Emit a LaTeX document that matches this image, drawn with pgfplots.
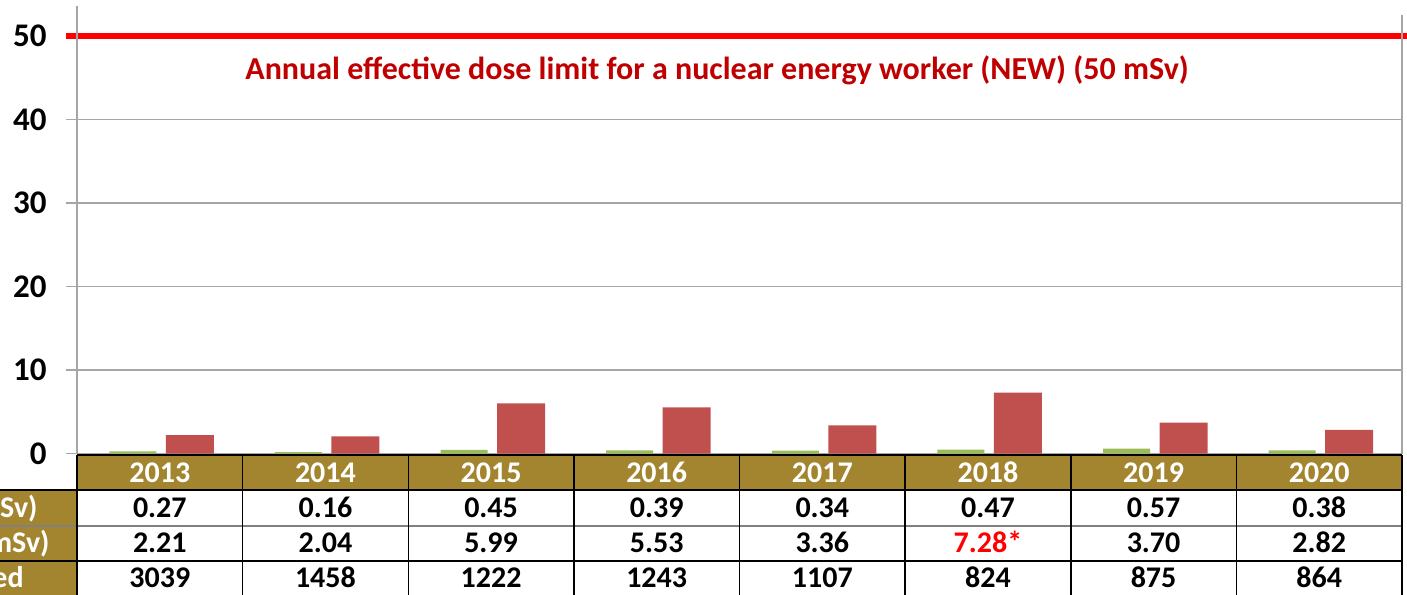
\documentclass[border=0pt]{standalone}
\usepackage{pgfplots}
\pgfplotsset{compat=1.18}
\usepackage{fontspec}
\setmainfont{Carlito}
\definecolor{gold}{RGB}{163,133,48}
\definecolor{bargreen}{RGB}{155,187,89}
\definecolor{barred}{RGB}{192,80,77}
\definecolor{limred}{RGB}{255,0,0}
\definecolor{txtred}{RGB}{192,0,0}
\definecolor{gridgray}{RGB}{166,166,166}
\definecolor{rowgray}{RGB}{128,128,128}

\begin{document}
\begin{tikzpicture}
\useasboundingbox (0,0) rectangle (703.5pt,-297pt);
\clip (0,0) rectangle (703.5pt,-297pt);
\begin{axis}[
  scale only axis, width=662.5pt, height=229.6pt,
  at={(38.5pt,-226.75pt)}, anchor=south west,
  xmin=-0.5, xmax=7.5, ymin=0, ymax=55,
  xtick=\empty, ytick={0,10,20,30,40,50},
  ymajorgrids, major grid style={gridgray, line width=0.75pt},
  axis line style={draw=none},
  tick align=outside, major tick length=5.5pt,
  tick style={gridgray, line width=0.75pt},
  ytick pos=left,
  yticklabel style={font=\bfseries\fontsize{16.5}{16.5}\selectfont, anchor=east, inner sep=0pt, xshift=-9.5pt},
  /pgf/number format/assume math mode=true,
  clip=false,
]
\addplot[ybar, bar width=23.5pt, bar shift=-13.5pt, fill=bargreen, draw=none]
  coordinates {(0,0.27) (1,0.16) (2,0.45) (3,0.39) (4,0.34) (5,0.47) (6,0.57) (7,0.38)};
\addplot[ybar, bar width=24pt, bar shift=15pt, fill=barred, draw=none]
  coordinates {(0,2.21) (1,2.04) (2,5.99) (3,5.53) (4,3.36) (5,7.28) (6,3.70) (7,2.82)};
\addplot[limred, line width=3pt, no markers] coordinates {(-0.566,50) (7.6,50)};
\draw[gridgray, line width=1pt] (axis cs:-0.5,0) -- (axis cs:-0.5,53.6);
\draw[gridgray, line width=1pt] (axis cs:7.5,0) -- (axis cs:7.5,52.5);
\node[text=txtred, font=\bfseries\fontsize{16}{16}\selectfont] at (axis cs:3.365,45.9)
  {Annual effective dose limit for a nuclear energy worker (NEW) (50 mSv)};
\end{axis}
\begin{scope}[x=0.5pt,y=-0.5pt]
\fill[gold] (77,455) rectangle (1402,490);
\fill[gold] (0,490) rectangle (77,600);
\draw[black, line width=0.75pt] (77,455) -- (1402,455);
\draw[black, line width=0.75pt] (0,490) -- (1402,490);
\draw[rowgray, line width=0.75pt] (0,526) -- (1402,526);
\draw[black, line width=0.75pt] (0,561) -- (1402,561);
\foreach \k in {0,...,8} {
  \draw[black, line width=0.75pt] ({77+165.625*\k},455) -- ({77+165.625*\k},600);
}
\tikzset{tc/.style={anchor=base, inner sep=0pt, font=\bfseries\fontsize{15}{15}\selectfont}}
\foreach \y [count=\i from 0] in {2013,2014,2015,2016,2017,2018,2019,2020} {
  \node[tc, text=white] at ({77+165.625*(\i+0.5)},482) {\y};
}
\foreach \v [count=\i from 0] in {0.27,0.16,0.45,0.39,0.34,0.47,0.57,0.38} {
  \node[tc] at ({77+165.625*(\i+0.5)},517) {\v};
}
\foreach \v [count=\i from 0] in {2.21,2.04,5.99,5.53,3.36,{\textcolor{limred}{7.28*}},3.70,2.82} {
  \node[tc] at ({77+165.625*(\i+0.5)},552) {\v};
}
\foreach \v [count=\i from 0] in {3039,1458,1222,1243,1107,824,875,864} {
  \node[tc] at ({77+165.625*(\i+0.5)},587) {\v};
}
\node[tc, anchor=base east, text=white] at (38,517) {Average Dose (mSv)};
\node[tc, anchor=base east, text=white] at (50,552) {Maximum Dose (mSv)};
\node[tc, anchor=base east, text=white] at (24,587) {Workers Monitored};
\end{scope}
\end{tikzpicture}
\end{document}
